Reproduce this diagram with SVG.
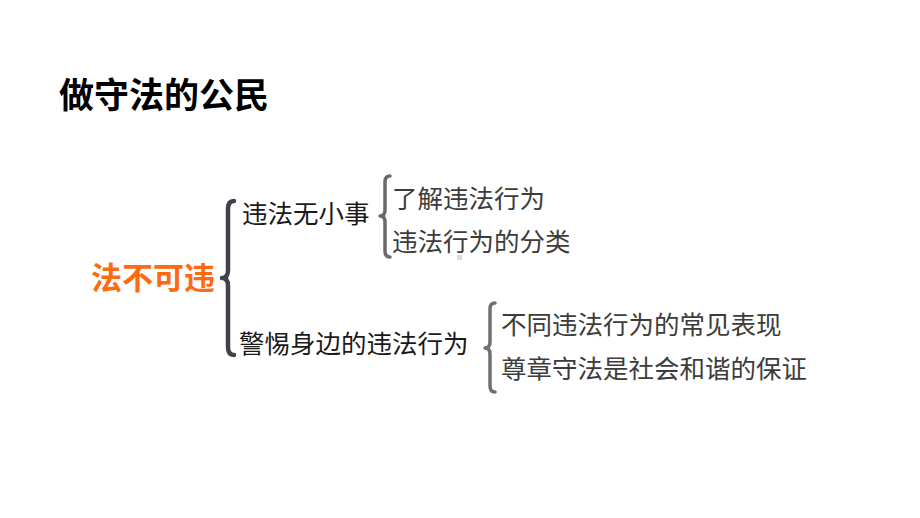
<svg xmlns="http://www.w3.org/2000/svg" width="920" height="518" viewBox="0 0 920 518">
<style>
.t{font-family:"Noto Sans CJK SC","Noto Sans",sans-serif;font-size:25.5px;fill:#1a1a1a}
.s{fill:#3c3c3c}
.br{fill:none;stroke-linecap:round;stroke-linejoin:round}
</style>
<rect width="920" height="518" fill="#ffffff"/>
<text id="title" x="59" y="108" style="font-family:'Noto Sans CJK SC',sans-serif;font-size:35px;font-weight:bold;fill:#000">做守法的公民</text>
<g id="connectors">
<path class="br" stroke="#3e434b" stroke-width="4.5" d="M234 201 Q228 201 228 209 L228 270 Q228 278 222 278 Q228 278 228 286 L228 347 Q228 355 234 355"/>
<path class="br" stroke="#6a6a6a" stroke-width="3.5" d="M390 176 Q385 176 385 182 L385 210 Q385 216 380 216 Q385 216 385 222 L385 251 Q385 257 390 257"/>
<path class="br" stroke="#707070" stroke-width="3.5" d="M495 303 Q490 303 490 309 L490 342 Q490 348 485 348 Q490 348 490 354 L490 386 Q490 392 495 392"/>
</g>
<g id="root"><text x="91" y="289" style="font-family:'Noto Sans CJK SC',sans-serif;font-size:31px;font-weight:bold;fill:#ff6a10">法不可违</text></g>
<g id="n1"><text class="t" x="242" y="222.5">违法无小事</text></g>
<g id="n2"><text class="t" x="239" y="353">警惕身边的违法行为</text></g>
<g id="n11"><text class="t s" x="392" y="208">了解违法行为</text></g>
<g id="n12"><text class="t s" x="392" y="251">违法行为的分类</text></g>
<g id="n21"><text class="t s" x="501" y="333.5">不同违法行为的常见表现</text></g>
<g id="n22"><text class="t s" x="501" y="378">尊章守法是社会和谐的保证</text></g>
<rect x="457" y="255" width="5" height="5" fill="#dcdcdc"/>
</svg>
